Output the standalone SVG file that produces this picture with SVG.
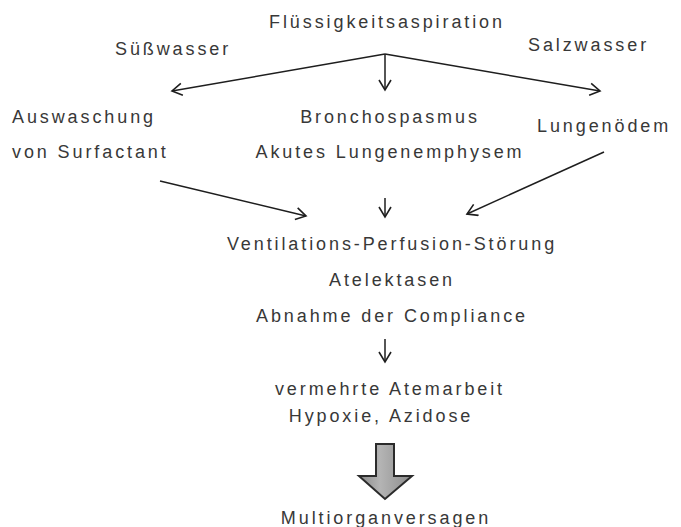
<svg xmlns="http://www.w3.org/2000/svg" width="681" height="527" viewBox="0 0 681 527">
<style>
text{font-family:"Liberation Sans",Arial,sans-serif;font-size:18px;fill:#383838;letter-spacing:2.9px}
.m{text-anchor:middle}
.c{fill:none;stroke:#1e1e1e;stroke-width:1.5;marker-end:url(#ah)}
</style>
<defs>
<marker id="ah" markerUnits="userSpaceOnUse" markerWidth="14" markerHeight="14" refX="11" refY="7" orient="auto" viewBox="0 0 14 14">
<path d="M1,1 L11,7 L1,13" fill="none" stroke="#1e1e1e" stroke-width="1.6"/>
</marker>
<linearGradient id="bg" x1="0" y1="0" x2="1" y2="0">
<stop offset="0" stop-color="#8a8a8a"/>
<stop offset="0.4" stop-color="#b4b4b4"/>
<stop offset="1" stop-color="#8c8c8c"/>
</linearGradient>
</defs>
<g id="connectors">
<line class="c" x1="385" y1="54" x2="172" y2="91"/>
<line class="c" x1="385" y1="54" x2="385" y2="90"/>
<line class="c" x1="385" y1="54" x2="600" y2="91"/>
<line class="c" x1="160" y1="181" x2="306" y2="216"/>
<line class="c" x1="385" y1="198" x2="385" y2="217"/>
<line class="c" x1="604" y1="152" x2="467" y2="214"/>
<line class="c" x1="385" y1="339" x2="385" y2="362"/>
<path id="blockarrow" d="M376,444 H394 V476 H412 L385,499 L359,476 H376 Z" fill="url(#bg)" stroke="#2b2b2b" stroke-width="2" stroke-linejoin="miter"/>
</g>
<g id="n-fluessigkeitsaspiration"><text class="m" x="387" y="28">Flüssigkeitsaspiration</text></g>
<g id="n-suesswasser"><text x="115" y="55">Süßwasser</text></g>
<g id="n-salzwasser"><text x="528" y="51">Salzwasser</text></g>
<g id="n-auswaschung"><text x="12" y="123">Auswaschung</text><text x="12" y="158">von Surfactant</text></g>
<g id="n-bronchospasmus"><text class="m" x="390" y="123">Bronchospasmus</text><text class="m" x="390" y="158">Akutes Lungenemphysem</text></g>
<g id="n-lungenoedem"><text x="537" y="132">Lungenödem</text></g>
<g id="n-ventilation"><text class="m" x="392" y="250">Ventilations-Perfusion-Störung</text><text class="m" x="392" y="286">Atelektasen</text><text class="m" x="392" y="322">Abnahme der Compliance</text></g>
<g id="n-atemarbeit"><text class="m" x="390" y="395">vermehrte Atemarbeit</text><text class="m" x="381" y="422">Hypoxie, Azidose</text></g>
<g id="n-multiorgan"><text class="m" x="386" y="524">Multiorganversagen</text></g>
</svg>
